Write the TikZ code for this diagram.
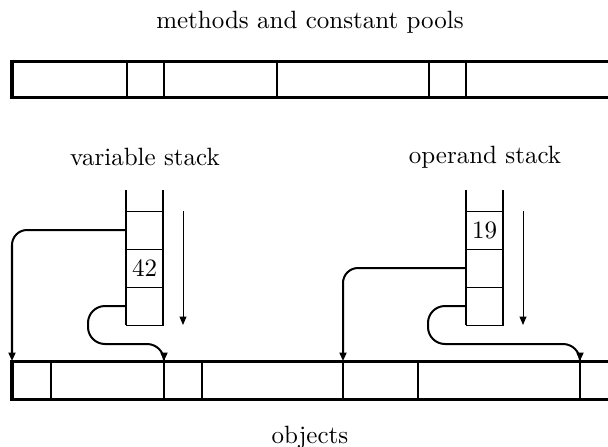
\documentclass[tikz,border=0pt]{standalone}
\usepackage{tikz}
\usetikzlibrary{arrows.meta, positioning}
\tikzset{
  cell/.style={rectangle, draw, line width=0.4pt, minimum width=14.8pt,
    minimum height=15.2pt, inner sep=0pt, outer sep=0pt},
  barline/.style={line width=1.2pt},
  divider/.style={line width=0.8pt},
  side/.style={line width=0.8pt},
  ptr/.style={line width=0.8pt},
  ptrtip/.style={-{Triangle[length=3.4pt,width=2.8pt]}, line width=0.8pt},
  dirarrow/.style={-{Triangle[length=3.4pt,width=2.8pt]}, line width=0.4pt}
}

\begin{document}
\begin{tikzpicture}[x=0.4pt, y=-0.4pt]
  \useasboundingbox (0,0) rectangle (608,447);
  % titles
  \node (methods) at (310,22) {methods and constant pools};
  \node (varlbl) at (145,157) {variable stack};
  \node (oplbl) at (485,157) {operand stack};
  \node (objects) at (310,437) {objects};

  % methods / constant pool area
  \draw[barline] (608,61) -- (12,61) -- (12,97) -- (608,97);
  \foreach \x in {127,164,277,429,466}
    \draw[divider] (\x,61) -- (\x,97);

  % object heap
  \draw[barline] (608,361) -- (12,361) -- (12,399) -- (608,399);
  \foreach \x in {51,164,202,343,418,580}
    \draw[divider] (\x,361) -- (\x,399);
  \coordinate (objA) at (12,361);
  \coordinate (objB) at (164,361);
  \coordinate (objC) at (343,361);
  \coordinate (objD) at (580,361);

  % variable stack
  \node[cell] (v1) at (144.5,230) {};
  \node[cell, below=0pt of v1] (v2) {42};
  \node[cell, below=0pt of v2] (v3) {};
  \draw[side] ([yshift=8.4pt]v1.north west) -- (v3.south west);
  \draw[side] ([yshift=8.4pt]v1.north east) -- (v3.south east);
  \draw[dirarrow] ([xshift=8pt]v1.north east) -- ([xshift=8pt]v3.south east);

  % operand stack
  \node[cell] (s1) at (484.5,230) {19};
  \node[cell, below=0pt of s1] (s2) {};
  \node[cell, below=0pt of s2] (s3) {};
  \draw[side] ([yshift=8.4pt]s1.north west) -- (s3.south west);
  \draw[side] ([yshift=8.4pt]s1.north east) -- (s3.south east);
  \draw[dirarrow] ([xshift=8pt]s1.north east) -- ([xshift=8pt]s3.south east);

  % references into the heap
  \draw[ptrtip, rounded corners=6pt] (v1.west) -| (objA);
  \draw[ptr, rounded corners=6.8pt] (v3.west) -- ++(-38,0) -- ++(0,38) -| (objB);
  \draw[ptrtip] ([yshift=3.4pt]objB) -- (objB);
  \draw[ptrtip, rounded corners=6pt] (s2.west) -| (objC);
  \draw[ptr, rounded corners=6.8pt] (s3.west) -- ++(-38,0) -- ++(0,38) -| (objD);
  \draw[ptrtip] ([yshift=3.4pt]objD) -- (objD);
\end{tikzpicture}
\end{document}
